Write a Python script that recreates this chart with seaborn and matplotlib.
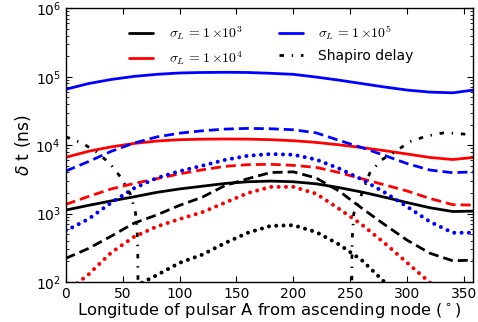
import numpy as np
import pandas as pd
import matplotlib
matplotlib.use("Agg")
import matplotlib.pyplot as plt
from matplotlib.font_manager import FontProperties
from matplotlib.lines import Line2D
import seaborn as sns

# ---------------- data (log10 of delta t in ns) ----------------
longitude = [0, 20, 40, 60, 80, 100, 120, 140, 160, 180, 200, 220, 240, 260, 280, 300, 320, 340, 358]

# sigma_L = 1e3 (black), 1e4 (red), 1e5 (blue); solid / dashed / dotted families
black_solid = [3.051, 3.12, 3.185, 3.245, 3.31, 3.36, 3.40, 3.44, 3.465, 3.475, 3.465, 3.435, 3.38, 3.315, 3.24, 3.16, 3.085, 3.03, 3.036]
red_solid   = [3.822, 3.91, 3.975, 4.025, 4.06, 4.08, 4.087, 4.09, 4.088, 4.08, 4.065, 4.04, 4.005, 3.965, 3.92, 3.87, 3.82, 3.79, 3.82]
blue_solid  = [4.816, 4.90, 4.96, 5.005, 5.035, 5.055, 5.062, 5.065, 5.062, 5.05, 5.035, 4.995, 4.95, 4.90, 4.85, 4.805, 4.775, 4.765, 4.805]

black_dashed = [2.345, 2.49, 2.67, 2.86, 2.98, 3.12, 3.24, 3.41, 3.51, 3.60, 3.61, 3.52, 3.33, 3.08, 2.84, 2.61, 2.42, 2.31, 2.32]
red_dashed   = [3.134, 3.25, 3.36, 3.44, 3.51, 3.58, 3.64, 3.69, 3.715, 3.72, 3.705, 3.675, 3.60, 3.51, 3.42, 3.33, 3.22, 3.13, 3.124]
blue_dashed  = [3.621, 3.76, 3.91, 4.03, 4.12, 4.175, 4.21, 4.235, 4.245, 4.24, 4.225, 4.18, 4.07, 3.965, 3.85, 3.73, 3.636, 3.597, 3.61]

black_dotted = [1.30, 1.45, 1.70, 1.93, 2.10, 2.28, 2.40, 2.57, 2.72, 2.82, 2.83, 2.73, 2.55, 2.32, 2.00, 1.70, 1.40, 1.20, 1.15]
red_dotted   = [1.85, 2.11, 2.43, 2.66, 2.81, 2.92, 3.02, 3.16, 3.30, 3.39, 3.39, 3.29, 3.07, 2.84, 2.57, 2.28, 1.99, 1.70, 1.60]
blue_dotted  = [2.749, 2.92, 3.16, 3.37, 3.52, 3.62, 3.70, 3.785, 3.845, 3.87, 3.86, 3.79, 3.66, 3.50, 3.31, 3.10, 2.88, 2.72, 2.72]

shapiro_lon = [0, 15, 27, 39, 49, 56.5, 61, 62.5, 63.3, 63.8, 251.0, 251.5, 253, 258, 267, 277, 289, 302, 317, 332, 344, 358]
shapiro_log = [4.122, 4.026, 3.90, 3.73, 3.515, 3.295, 3.05, 2.83, 2.5, 1.0, 1.0, 2.6, 3.0, 3.2, 3.59, 3.78, 3.90, 4.05, 4.133, 4.18, 4.17, 4.15]

legend_labels = [r"$\sigma_L\,{=}1\,{\times}10^3$", r"$\sigma_L\,{=}1\,{\times}10^4$",
                 r"$\sigma_L\,{=}1\,{\times}10^5$", "Shapiro delay"]
xlabel = r"Longitude of pulsar A from ascending node ($^\circ$)"
ylabel = r"$\delta$ t (ns)"

# ---------------- style ----------------
sns.set_style("ticks")
plt.rcParams.update({
    "font.family": ["DejaVu Sans"],
    "xtick.direction": "in", "ytick.direction": "in",
    "xtick.top": True, "ytick.right": True,
    "xtick.major.size": 4, "ytick.major.size": 4,
    "ytick.minor.size": 2, "xtick.minor.size": 2,
    "axes.edgecolor": "black", "axes.linewidth": 1.0,
    "xtick.color": "black", "ytick.color": "black",
    "text.color": "black", "axes.labelcolor": "black",
})

fig = plt.figure(figsize=(4.78, 3.22), dpi=100)
ax = fig.add_axes([0.1374, 0.1242, 0.8528, 0.85])

dot_style = (0, (0.01, 1.81))
dash_style = (0, (3.6, 1.8))
shapiro_style = (0, (1.6, 2.8, 0.5, 2.8))

def draw(y, color, style, lw, cap="butt"):
    vals = np.power(10.0, np.array(y))
    sns.lineplot(x=longitude, y=vals, ax=ax, color=color, linestyle=style,
                 linewidth=lw, dash_capstyle=cap, sort=False, estimator=None)

# solid
draw(black_solid, "black", "-", 2.0)
draw(red_solid, "red", "-", 2.0)
draw(blue_solid, "blue", "-", 2.0)
# dashed
draw(black_dashed, "black", dash_style, 2.0)
draw(red_dashed, "red", dash_style, 2.0)
draw(blue_dashed, "blue", dash_style, 2.0)
# dotted
draw(black_dotted, "black", dot_style, 2.9, cap="round")
draw(red_dotted, "red", dot_style, 2.9, cap="round")
draw(blue_dotted, "blue", dot_style, 2.9, cap="round")
# Shapiro
sns.lineplot(x=shapiro_lon, y=np.power(10.0, np.array(shapiro_log)), ax=ax, color="black",
             linestyle=shapiro_style, linewidth=2.0, sort=False, estimator=None)

ax.set_yscale("log")
ax.set_xlim(0, 358)
ax.set_ylim(1e2, 1e6)
ax.set_xticks(np.arange(0, 351, 50))
ax.tick_params(axis="both", which="major", labelsize=10, pad=3.5)
ax.set_xlabel(xlabel, fontsize=11.8, labelpad=0.2)
ax.set_ylabel(ylabel, fontsize=12.3, labelpad=2)

handles = [Line2D([], [], color="black", lw=2),
           Line2D([], [], color="red", lw=2),
           Line2D([], [], color="blue", lw=2),
           Line2D([], [], color="black", lw=2, linestyle=shapiro_style)]
ax.legend(handles, legend_labels, ncol=2, frameon=False,
          loc="upper left", bbox_to_anchor=(0.125, 0.99),
          prop=FontProperties(family="DejaVu Sans", size=10, math_fontfamily="cm"),
          handlelength=1.75, handletextpad=1.1, columnspacing=2.6, labelspacing=0.5)

fig.savefig("out.png", dpi=100)
